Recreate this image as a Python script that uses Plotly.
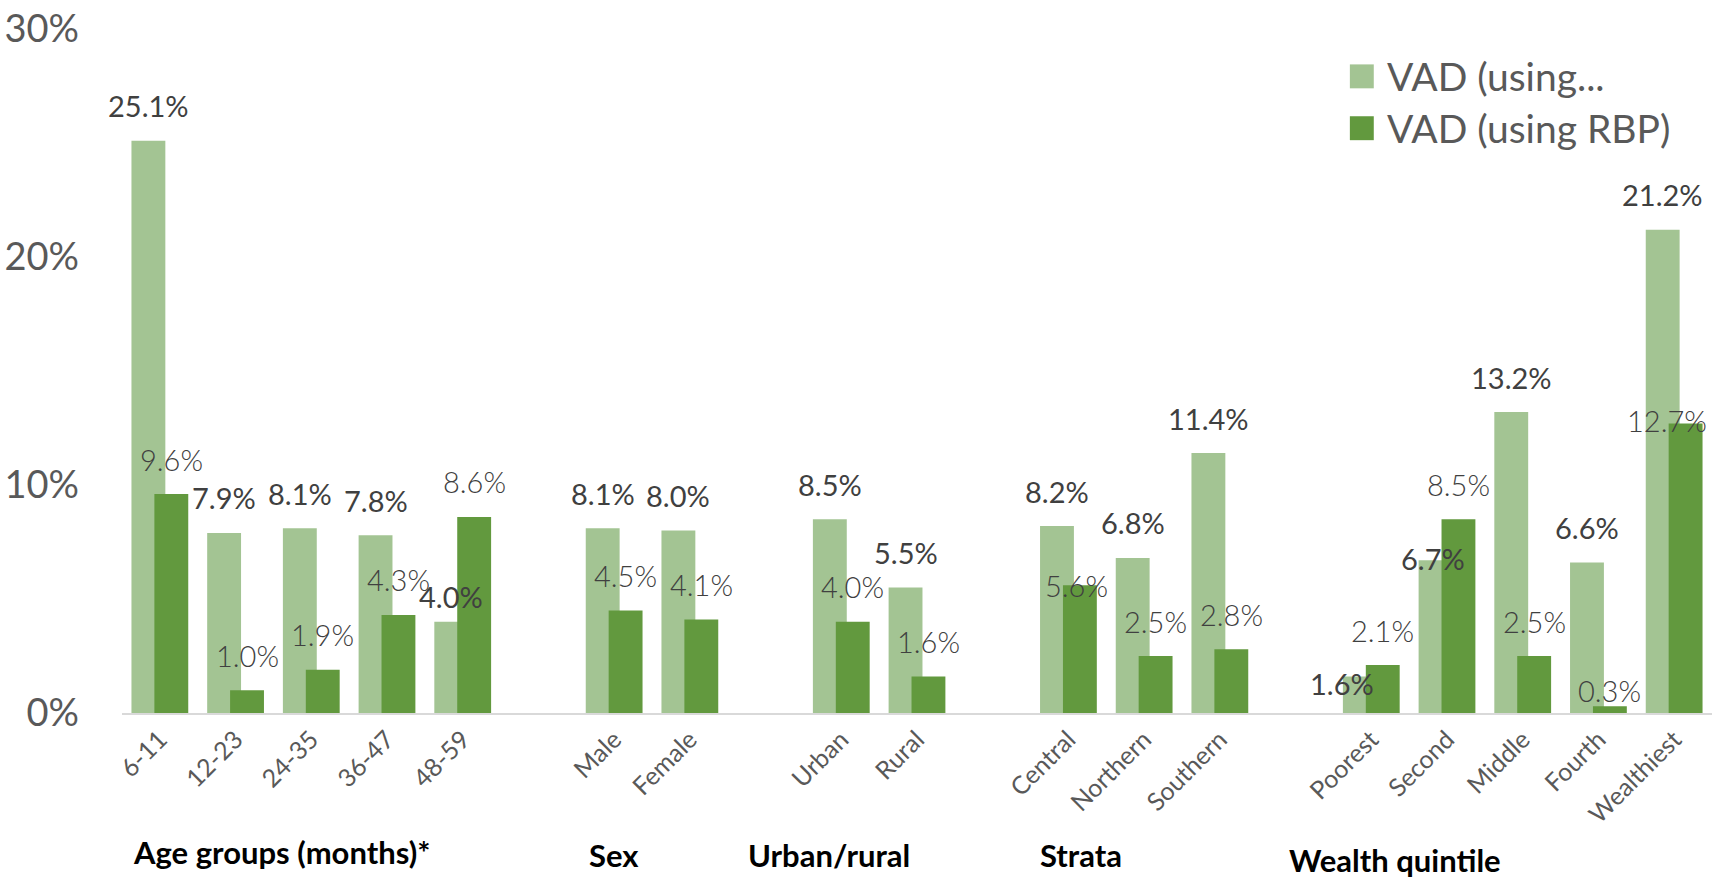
import plotly.graph_objects as go

# ---- data ----
categories = ["6-11", "12-23", "24-35", "36-47", "48-59", " ",
              "Male", "Female", "  ",
              "Urban", "Rural", "   ",
              "Central", "Northern", "Southern", "    ",
              "Poorest", "Second", "Middle", "Fourth", "Wealthiest"]
tick_labels = ["6-11", "12-23", "24-35", "36-47", "48-59", "",
               "Male", "Female", "",
               "Urban", "Rural", "",
               "Central", "Northern", "Southern", "",
               "Poorest", "Second", "Middle", "Fourth", "Wealthiest"]
vad_retinol = [25.1, 7.9, 8.1, 7.8, 4.0, None,
               8.1, 8.0, None,
               8.5, 5.5, None,
               8.2, 6.8, 11.4, None,
               1.6, 6.7, 13.2, 6.6, 21.2]
vad_rbp = [9.6, 1.0, 1.9, 4.3, 8.6, None,
           4.5, 4.1, None,
           4.0, 1.6, None,
           5.6, 2.5, 2.8, None,
           2.1, 8.5, 2.5, 0.3, 12.7]
series_names = ["VAD (using...", "VAD (using RBP)"]
group_labels = ["Age groups (months)*", "Sex", "Urban/rural", "Strata", "Wealth quintile"]

# ---- style ----
FONT = "Lato, 'Open Sans', sans-serif"
LIGHT = "#A3C493"
DARK = "#62993E"
W, H = 1717, 883
L, R, T, B = 116.5, 4.5, 27, 170
pw, ph = W - L - R, H - T - B
step = pw / len(categories)


def px_x(X):
    return (X - L) / pw


def px_y(Y):
    return (H - B - Y) / ph


fig = go.Figure()
fig.add_trace(go.Bar(x=categories, y=vad_retinol, name=series_names[0],
                     marker=dict(color=LIGHT, line=dict(width=0)),
                     width=34 / step, offset=-28.5 / step, showlegend=False,
                     hoverinfo="skip"))
fig.add_trace(go.Bar(x=categories, y=vad_rbp, name=series_names[1],
                     marker=dict(color=DARK, line=dict(width=0)),
                     width=34 / step, offset=-5.5 / step, showlegend=False,
                     hoverinfo="skip"))

# manual label nudges (px: dx, dy-down) reproducing the reference placement
nudge_retinol = {"48-59": (0, 10), "Poorest": (-18, 42), "Second": (-3, 33)}
nudge_rbp = {"Central": (-3, 35), "Fourth": (0, 19), "Wealthiest": (-19, 32)}

annotations = []
for cat, v in zip(categories, vad_retinol):
    if v is None:
        continue
    dx, dy = nudge_retinol.get(cat, (0, 0))
    annotations.append(dict(x=cat, y=v, xref="x", yref="y", text=f"{v:.1f}%",
                            showarrow=False, xshift=-11.5 + dx, yshift=35 - dy,
                            yanchor="middle", xanchor="center",
                            font=dict(family=FONT, size=29, color="#404040")))
for cat, v in zip(categories, vad_rbp):
    if v is None:
        continue
    dx, dy = nudge_rbp.get(cat, (0, 0))
    annotations.append(dict(x=cat, y=v, xref="x", yref="y", text=f"{v:.1f}%",
                            showarrow=False, xshift=11.5 + dx, yshift=35 - dy,
                            yanchor="middle", xanchor="center",
                            font=dict(family=FONT, size=29, color="#404040", weight=300)))

# group labels below axis
group_pos = [(277, 852), (610, 855), (826, 855), (1079, 855), (1394, 860)]
for txt, (gx, gy) in zip(group_labels, group_pos):
    annotations.append(dict(x=px_x(gx), y=px_y(gy), xref="paper", yref="paper",
                            text=f"<b>{txt}</b>", showarrow=False,
                            xanchor="center", yanchor="middle",
                            font=dict(family=FONT, size=31, color="#000000")))

# legend (drawn manually to get large swatches)
shapes = []
legend_rows = [(series_names[0], LIGHT, 74.5), (series_names[1], DARK, 126.5)]
for name, col, cy in legend_rows:
    shapes.append(dict(type="rect", xref="paper", yref="paper",
                       x0=px_x(1349), x1=px_x(1373), y0=px_y(cy + 12), y1=px_y(cy - 12),
                       fillcolor=col, line=dict(width=0)))
    annotations.append(dict(x=px_x(1384), y=px_y(cy), xref="paper", yref="paper",
                            text=name, showarrow=False, xanchor="left", yanchor="middle",
                            font=dict(family=FONT, size=39, color="#595959")))

fig.update_layout(
    width=W, height=H,
    margin=dict(l=L, r=R, t=T, b=B, pad=0),
    barmode="overlay",
    plot_bgcolor="white", paper_bgcolor="white",
    font=dict(family=FONT, color="#595959"),
    annotations=annotations,
    shapes=shapes,
    showlegend=False,
    hovermode=False,
)
fig.update_xaxes(
    type="category", categoryorder="array", categoryarray=categories,
    tickmode="array", tickvals=categories, ticktext=tick_labels,
    tickangle=-45, tickfont=dict(family=FONT, size=25, color="#595959"),
    showline=True, linecolor="#D9D9D9", linewidth=2,
    showgrid=False, ticks="", ticklabelstandoff=0,
    range=[-0.5, len(categories) - 0.5],
)
fig.update_yaxes(
    range=[0, 30], tickvals=[0, 10, 20, 30], ticktext=["0%", "10%", "20%", "30%"],
    tickfont=dict(family=FONT, size=38, color="#595959"),
    showgrid=False, zeroline=False, showline=False, ticks="",
    ticklabelstandoff=42,
)

fig.write_html("out.html", config={"displayModeBar": False},
               post_script="document.body.style.margin='0';document.body.style.padding='0';"
                           "document.body.style.overflow='hidden';")
